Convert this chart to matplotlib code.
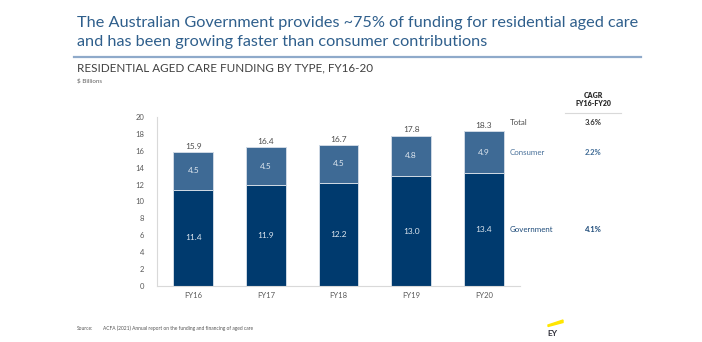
import matplotlib
matplotlib.use("Agg")
import matplotlib.pyplot as plt
import matplotlib.transforms as mtransforms
from matplotlib.lines import Line2D
from matplotlib.patches import Polygon

plt.rcParams['font.family'] = ['Lato', 'DejaVu Sans']

categories = ["FY16", "FY17", "FY18", "FY19", "FY20"]
government = [11.4, 11.9, 12.2, 13.0, 13.4]
consumer = [4.5, 4.5, 4.5, 4.8, 4.9]
totals = [15.9, 16.4, 16.7, 17.8, 18.3]
yticks = [0, 2, 4, 6, 8, 10, 12, 14, 16, 18, 20]
series_names = ["Total", "Consumer", "Government"]
cagr_values = ["3.6%", "2.2%", "4.1%"]

GOV = "#003A6E"
CON = "#3E6A95"
TITLE_C = "#2F5F8C"
GRAY = "#4D4D4D"

W, H = 702, 342
fig = plt.figure(figsize=(W / 100, H / 100), dpi=100)


def fx(px):
    return px / W


def fy(py):
    return 1 - py / H


ax = fig.add_axes([fx(157), fy(286), fx(520) - fx(157), fy(117) - fy(286)])
x = list(range(len(categories)))
ax.bar(x, government, width=0.55, color=GOV, edgecolor="#cfd9e4", linewidth=0.7)
ax.bar(x, consumer, width=0.55, bottom=government, color=CON, edgecolor="#cfd9e4", linewidth=0.7)

for i in x:
    ax.text(i, government[i] / 2, f"{government[i]:.1f}", ha="center", va="center",
            color="#dfe7ef", fontsize=6)
    ax.text(i, government[i] + consumer[i] / 2, f"{consumer[i]:.1f}", ha="center", va="center",
            color="#dfe7ef", fontsize=6)
    ax.text(i, totals[i] + 0.25, f"{totals[i]:.1f}", ha="center", va="bottom",
            color=GRAY, fontsize=6)

ax.set_xlim(-0.5, 4.5)
ax.set_ylim(0, 20)
ax.set_yticks(yticks)
ax.set_xticks(x)
ax.set_xticklabels(categories)
ax.tick_params(axis="both", length=0, labelsize=5.5, labelcolor="#595959")
ax.tick_params(axis="y", pad=9)
ax.tick_params(axis="x", pad=4)
for s in ["top", "right"]:
    ax.spines[s].set_visible(False)
for s in ["left", "bottom"]:
    ax.spines[s].set_color("#d9d9d9")
    ax.spines[s].set_linewidth(0.8)

# series labels and CAGR values on the right: x in figure, y in data
blend = mtransforms.blended_transform_factory(fig.transFigure, ax.transData)
label_y = [totals[-1] + 1.1, government[-1] + consumer[-1] / 2, government[-1] / 2]
label_colors = [GRAY, "#4A719A", "#1F4C7A"]
val_colors = ["#333333", "#3E6A95", "#1F4C7A"]
for name, yv, c, v, vc in zip(series_names, label_y, label_colors, cagr_values, val_colors):
    ax.text(fx(510), yv, name, transform=blend, ha="left", va="center", fontsize=5.7,
            color=c, clip_on=False)
    ax.text(fx(593), yv, v, transform=blend, ha="center", va="center", fontsize=5.5,
            color=vc, fontweight="bold", clip_on=False)

fig.text(fx(593), fy(95), "CAGR", ha="center", va="center", fontsize=5, fontweight="heavy", color="#2b2b2b")
fig.text(fx(593), fy(104), "FY16-FY20", ha="center", va="center", fontsize=5, fontweight="heavy", color="#2b2b2b")
fig.add_artist(Line2D([fx(565), fx(621)], [fy(113), fy(113)], color="#d9d9d9", lw=0.8))

# Title
renderer = fig.canvas.get_renderer()
t1 = fig.text(fx(77), fy(23), "The Australian Government provides ~75% of funding for residential aged care",
              ha="left", va="center", fontsize=11, color=TITLE_C)
bb = t1.get_window_extent(renderer=renderer)
fs = 11 * (640 - 77) / bb.width
t1.set_fontsize(fs)
fig.text(fx(77), fy(42), "and has been growing faster than consumer contributions",
         ha="left", va="center", fontsize=fs, color=TITLE_C)
fig.add_artist(Line2D([fx(74), fx(641)], [fy(57), fy(57)], color="#8FAACA", lw=1.6))

t2 = fig.text(fx(77), fy(68), "RESIDENTIAL AGED CARE FUNDING BY TYPE, FY16-20", ha="left", va="center",
              fontsize=8, color="#404040")
bb = t2.get_window_extent(renderer=renderer)
t2.set_fontsize(8 * (370 - 77) / bb.width)
fig.text(fx(77), fy(81), "$ Billions", ha="left", va="center", fontsize=4.5, color="#666666")

# Source
fig.text(fx(77), fy(328), "Source:", ha="left", va="center", fontsize=3.5, color="#555555")
fig.text(fx(103), fy(328), "ACFA (2021) Annual report on the funding and financing of aged care",
         ha="left", va="center", fontsize=3.5, color="#555555")

# EY logo fragment
fig.add_artist(Polygon([[fx(548), fy(325)], [fx(563), fy(320)], [fx(563), fy(322.5)], [fx(548), fy(326.5)]],
                       closed=True, color="#FFE600", transform=fig.transFigure))
fig.text(fx(547), fy(334), "EY", ha="left", va="center", fontsize=6, fontweight="bold", color="#2E2E38")

fig.savefig("out.png", dpi=100)
